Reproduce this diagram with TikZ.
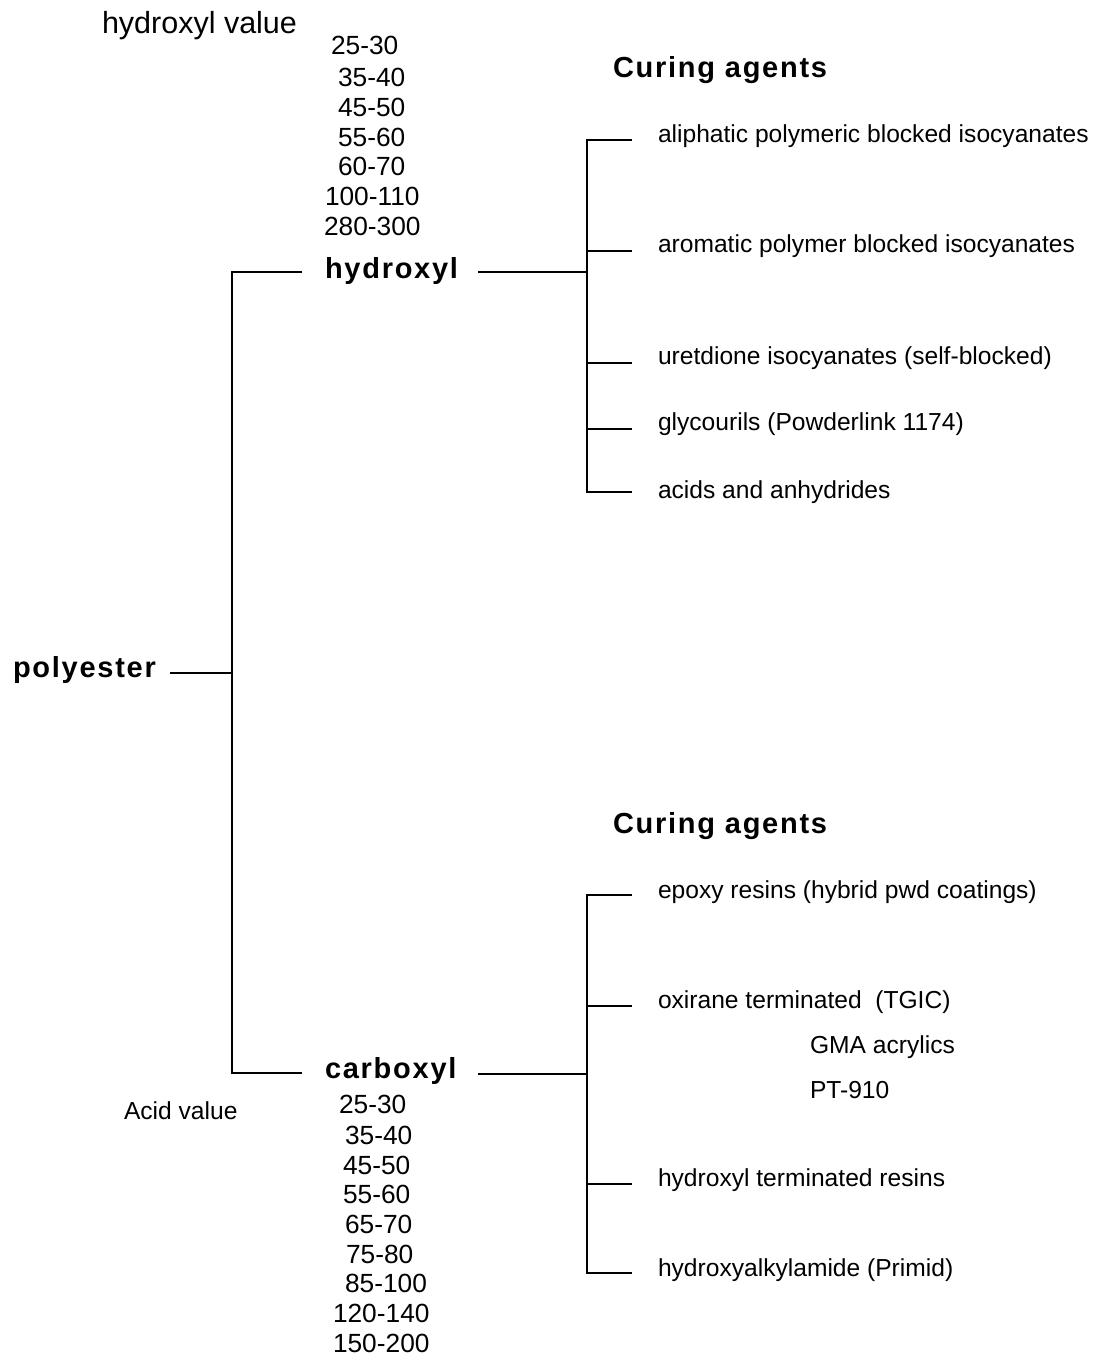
\documentclass[tikz,border=0pt]{standalone}
\usepackage{fontspec}
\setmainfont{Liberation Sans}
\newfontfamily\widebf[LetterSpace=6]{Liberation Sans Bold}
\begin{document}
\begin{tikzpicture}[x=1pt,y=-1pt,line width=2pt,
  txt/.style={anchor=west,inner sep=0pt,yshift=-3pt,font=\fontsize{24.6}{28}\selectfont,text height=17.5pt,text depth=5pt},
  num/.style={anchor=west,inner sep=0pt,yshift=-3pt,font=\fontsize{26.3}{30}\selectfont,text height=18.5pt,text depth=5.5pt},
  big/.style={anchor=west,inner sep=0pt,yshift=-3pt,font=\fontsize{30.5}{34}\selectfont,text height=22pt,text depth=6.5pt},
  head/.style={anchor=west,inner sep=0pt,yshift=-3pt,font=\fontsize{29}{33}\widebf,text height=21pt,text depth=6pt}]
\useasboundingbox (0,0) rectangle (1094,1357);
% top labels
\node[big] (hv) at (101,23) {hydroxyl value};
\node[num] (h1) at (330,45) {25-30};
\node[num] (h2) at (337,77) {35-40};
\node[num] (h3) at (337,107) {45-50};
\node[num] (h4) at (337,137) {55-60};
\node[num] (h5) at (337,166) {60-70};
\node[num] (h6) at (324,196) {100-110};
\node[num] (h7) at (323,226) {280-300};
\node[head] (hyd) at (324,268) {hydroxyl};
\node[head] (poly) at (12,667) {polyester};
\node[head] (carb) at (324,1068) {carboxyl};
\node[head] (cur1) at (612,67) {Curing agents};
\node[head] (cur2) at (612,823) {Curing agents};
% hydroxyl curing agents
\node[txt] (a1) at (657,133) {aliphatic polymeric blocked isocyanates};
\node[txt] (a2) at (657,243) {aromatic polymer blocked isocyanates};
\node[txt] (a3) at (657,355) {uretdione isocyanates (self-blocked)};
\node[txt] (a4) at (657,421) {glycourils (Powderlink 1174)};
\node[txt] (a5) at (657,489) {acids and anhydrides};
% carboxyl curing agents
\node[txt] (b1) at (657,889) {epoxy resins (hybrid pwd coatings)};
\node[txt] (b2) at (657,999) {oxirane terminated\ \ (TGIC)};
\node[txt] (b2a) at (809,1044) {GMA acrylics};
\node[txt] (b2b) at (809,1089) {PT-910};
\node[txt] (b3) at (657,1177) {hydroxyl terminated resins};
\node[txt] (b4) at (657,1267) {hydroxyalkylamide (Primid)};
% acid values
\node[txt] (av) at (123,1110) {Acid value};
\node[num] (c1) at (338,1104) {25-30};
\node[num] (c2) at (344,1135) {35-40};
\node[num] (c3) at (342,1165) {45-50};
\node[num] (c4) at (342,1194) {55-60};
\node[num] (c5) at (344,1224) {65-70};
\node[num] (c6) at (345,1254) {75-80};
\node[num] (c7) at (344,1283) {85-100};
\node[num] (c8) at (332,1313) {120-140};
\node[num] (c9) at (332,1343) {150-200};
% tree coordinates
\coordinate (pe) at (170,673);
\coordinate (pj) at (232,673);
\coordinate (pt) at (232,272);
\coordinate (pb) at (232,1073);
\coordinate (hl) at (302,272);
\coordinate (cl) at (302,1073);
\coordinate (hr) at (478,272);
\coordinate (hj) at (587,272);
\coordinate (cr) at (478,1074);
\coordinate (cj) at (587,1074);
% polyester tree
\draw (pe) -- (pj);
\draw (hl) -- (pt) -- (pb) -- (cl);
% hydroxyl tree
\draw (hr) -- (hj);
\draw (632,140) -- (587,140) -- (587,492) -- (632,492);
\foreach \yy in {251,363,429} \draw (587,\yy) -- (632,\yy);
% carboxyl tree
\draw (cr) -- (cj);
\draw (632,895) -- (587,895) -- (587,1273) -- (632,1273);
\foreach \yy in {1006,1184} \draw (587,\yy) -- (632,\yy);
\end{tikzpicture}
\end{document}
